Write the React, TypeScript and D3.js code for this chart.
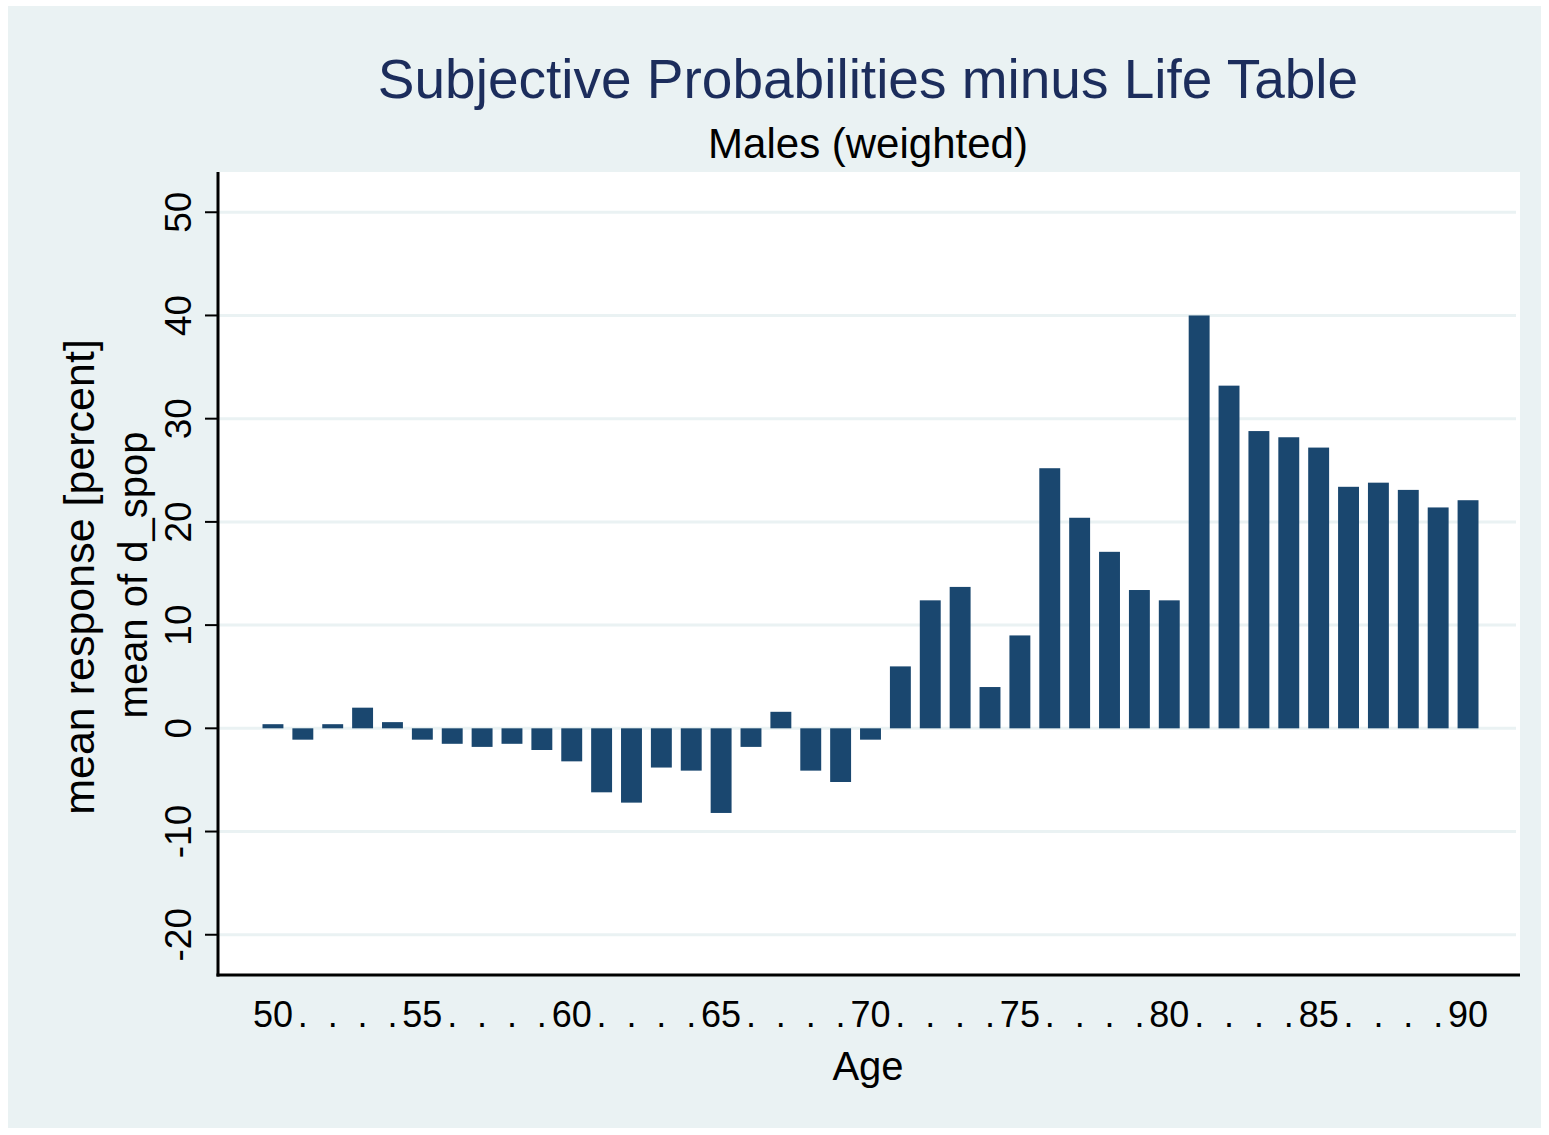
import React from "react";
import * as d3 from "d3";

const ages: number[] = [
  50, 51, 52, 53, 54, 55, 56, 57, 58, 59, 60, 61, 62, 63, 64, 65, 66, 67, 68, 69,
  70, 71, 72, 73, 74, 75, 76, 77, 78, 79, 80, 81, 82, 83, 84, 85, 86, 87, 88, 89, 90,
];
const meanDiff: number[] = [
  0.4, -1.1, 0.4, 2.0, 0.6, -1.1, -1.5, -1.8, -1.5, -2.1, -3.2, -6.2, -7.2, -3.8, -4.1,
  -8.2, -1.8, 1.6, -4.1, -5.2, -1.1, 6.0, 12.4, 13.7, 4.0, 9.0, 25.2, 20.4, 17.1, 13.4,
  12.4, 40.0, 33.2, 28.8, 28.2, 27.2, 23.4, 23.8, 23.1, 21.4, 22.1,
];
const yTicks: number[] = [-20, -10, 0, 10, 20, 30, 40, 50];
const xLabelAges: number[] = [50, 55, 60, 65, 70, 75, 80, 85, 90];

const title = "Subjective Probabilities minus Life Table";
const subtitle = "Males (weighted)";
const yTitle1 = "mean response [percent]";
const yTitle2 = "mean of d_spop";
const xTitle = "Age";

const W = 1549;
const H = 1135;
const BG = "#EAF2F3";
const BAR = "#1A476F";
const NAVY = "#1C2D5C";
const FONT = "'Liberation Sans', Arial, Helvetica, sans-serif";

export default function App() {
  const plot = { left: 218, right: 1520, top: 172, bottom: 975 };
  const y = d3.scaleLinear().domain([-23.9, 53.9]).range([plot.bottom, plot.top]);
  const x = d3
    .scaleBand<number>()
    .domain(ages)
    .range([262.5, 1478.5])
    .paddingInner(0.3)
    .paddingOuter(0);
  const bw = x.bandwidth();

  return (
    <svg
      width={W}
      height={H}
      style={{ position: "absolute", left: 0, top: 0, display: "block" }}
      fontFamily={FONT}
    >
      <rect x={0} y={0} width={W} height={H} fill="#ffffff" />
      <rect x={8} y={6} width={1533} height={1122} fill={BG} />
      <rect
        x={plot.left}
        y={plot.top}
        width={plot.right - plot.left}
        height={plot.bottom - plot.top}
        fill="#ffffff"
      />
      {/* gridlines */}
      {yTicks.map((t) => (
        <line
          key={"g" + t}
          x1={plot.left}
          x2={plot.right - 4}
          y1={y(t)}
          y2={y(t)}
          stroke={BG}
          strokeWidth={3}
        />
      ))}
      {/* bars */}
      {ages.map((a, i) => {
        const v = meanDiff[i];
        const y0 = y(0);
        const yv = y(v);
        return (
          <rect
            key={"b" + a}
            x={x(a)!}
            y={Math.min(y0, yv)}
            width={bw}
            height={Math.abs(yv - y0)}
            fill={BAR}
          />
        );
      })}
      {/* axes */}
      <line
        x1={plot.left}
        x2={plot.left}
        y1={plot.top}
        y2={plot.bottom + 1.5}
        stroke="#000"
        strokeWidth={3}
      />
      <line
        x1={plot.left - 1.5}
        x2={plot.right}
        y1={plot.bottom}
        y2={plot.bottom}
        stroke="#000"
        strokeWidth={3}
      />
      {yTicks.map((t) => (
        <g key={"t" + t}>
          <line
            x1={plot.left - 13}
            x2={plot.left}
            y1={y(t)}
            y2={y(t)}
            stroke="#000"
            strokeWidth={2}
          />
          <text
            transform={`translate(191,${y(t)}) rotate(-90)`}
            textAnchor="middle"
            fontSize={37}
            fill="#000"
          >
            {t}
          </text>
        </g>
      ))}
      {/* x labels */}
      {ages.map((a) => (
        <text
          key={"xl" + a}
          x={x(a)! + bw / 2}
          y={1027}
          textAnchor="middle"
          fontSize={36}
          fill="#000"
        >
          {xLabelAges.includes(a) ? String(a) : "."}
        </text>
      ))}
      {/* titles */}
      <text x={868} y={98} textAnchor="middle" fontSize={55} fill={NAVY}>
        {title}
      </text>
      <text x={868} y={158} textAnchor="middle" fontSize={42} fill="#000">
        {subtitle}
      </text>
      <text x={868} y={1080} textAnchor="middle" fontSize={40} fill="#000">
        {xTitle}
      </text>
      <text
        transform={`translate(94,577) rotate(-90)`}
        textAnchor="middle"
        fontSize={43}
        fill="#000"
      >
        {yTitle1}
      </text>
      <text
        transform={`translate(147,575) rotate(-90)`}
        textAnchor="middle"
        fontSize={40}
        fill="#000"
      >
        {yTitle2}
      </text>
    </svg>
  );
}
